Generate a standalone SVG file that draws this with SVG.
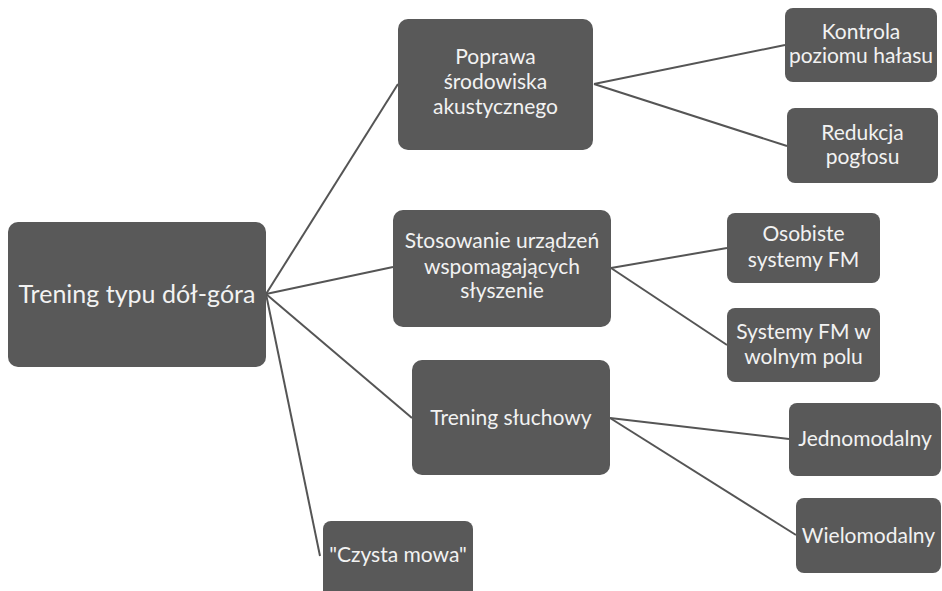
<svg xmlns="http://www.w3.org/2000/svg" width="942" height="591" viewBox="0 0 942 591">
<style>
.box{fill:#595959;}
.t{fill:#f2f2f2;font-family:Lato,"Open Sans","Liberation Sans",sans-serif;font-size:21px;text-anchor:middle;}
.big{font-size:25px;}
.c{stroke:#555555;stroke-width:2;fill:none;}
</style>
<rect width="942" height="591" fill="#ffffff"/>
<g id="connectors">
<line class="c" x1="266" y1="294" x2="398" y2="84"/>
<line class="c" x1="266" y1="294" x2="393" y2="267"/>
<line class="c" x1="266" y1="294" x2="412" y2="418"/>
<line class="c" x1="266" y1="294" x2="320" y2="556"/>
<line class="c" x1="594" y1="84" x2="785" y2="45"/>
<line class="c" x1="594" y1="84" x2="787" y2="146"/>
<line class="c" x1="611" y1="268" x2="727" y2="248"/>
<line class="c" x1="611" y1="268" x2="727" y2="345"/>
<line class="c" x1="610" y1="418" x2="789" y2="439"/>
<line class="c" x1="610" y1="418" x2="796" y2="535"/>
</g>
<g id="root">
<rect class="box" x="8" y="222" width="258" height="145" rx="10"/>
<text class="t big" x="137" y="303">Trening typu dół-góra</text>
</g>
<g id="poprawa">
<rect class="box" x="398" y="19" width="195" height="131" rx="10"/>
<text class="t" x="495.5" y="64">Poprawa</text>
<text class="t" x="495.5" y="89">środowiska</text>
<text class="t" x="495.5" y="114">akustycznego</text>
</g>
<g id="kontrola">
<rect class="box" x="785" y="8" width="152" height="74" rx="8"/>
<text class="t" x="861" y="39">Kontrola</text>
<text class="t" x="861" y="63">poziomu hałasu</text>
</g>
<g id="redukcja">
<rect class="box" x="787" y="108" width="151" height="75" rx="8"/>
<text class="t" x="862.5" y="140">Redukcja</text>
<text class="t" x="862.5" y="164">pogłosu</text>
</g>
<g id="stosowanie">
<rect class="box" x="393" y="210" width="218" height="117" rx="10"/>
<text class="t" x="502" y="248">Stosowanie urządzeń</text>
<text class="t" x="502" y="274">wspomagających</text>
<text class="t" x="502" y="298">słyszenie</text>
</g>
<g id="osobiste">
<rect class="box" x="727" y="213" width="153" height="70" rx="8"/>
<text class="t" x="803.5" y="241">Osobiste</text>
<text class="t" x="803.5" y="267">systemy FM</text>
</g>
<g id="systemy">
<rect class="box" x="727" y="308" width="153" height="74" rx="8"/>
<text class="t" x="803.5" y="339">Systemy FM w</text>
<text class="t" x="803.5" y="364">wolnym polu</text>
</g>
<g id="trening-sluchowy">
<rect class="box" x="412" y="360" width="198" height="115" rx="10"/>
<text class="t" x="511" y="425">Trening słuchowy</text>
</g>
<g id="jednomodalny">
<rect class="box" x="789" y="403" width="152" height="73" rx="8"/>
<text class="t" x="865" y="446">Jednomodalny</text>
</g>
<g id="wielomodalny">
<rect class="box" x="796" y="498" width="145" height="75" rx="8"/>
<text class="t" x="868.5" y="543">Wielomodalny</text>
</g>
<g id="czysta-mowa">
<rect class="box" x="323" y="521" width="150" height="80" rx="8"/>
<text class="t" x="398" y="562">"Czysta mowa"</text>
</g>
</svg>
